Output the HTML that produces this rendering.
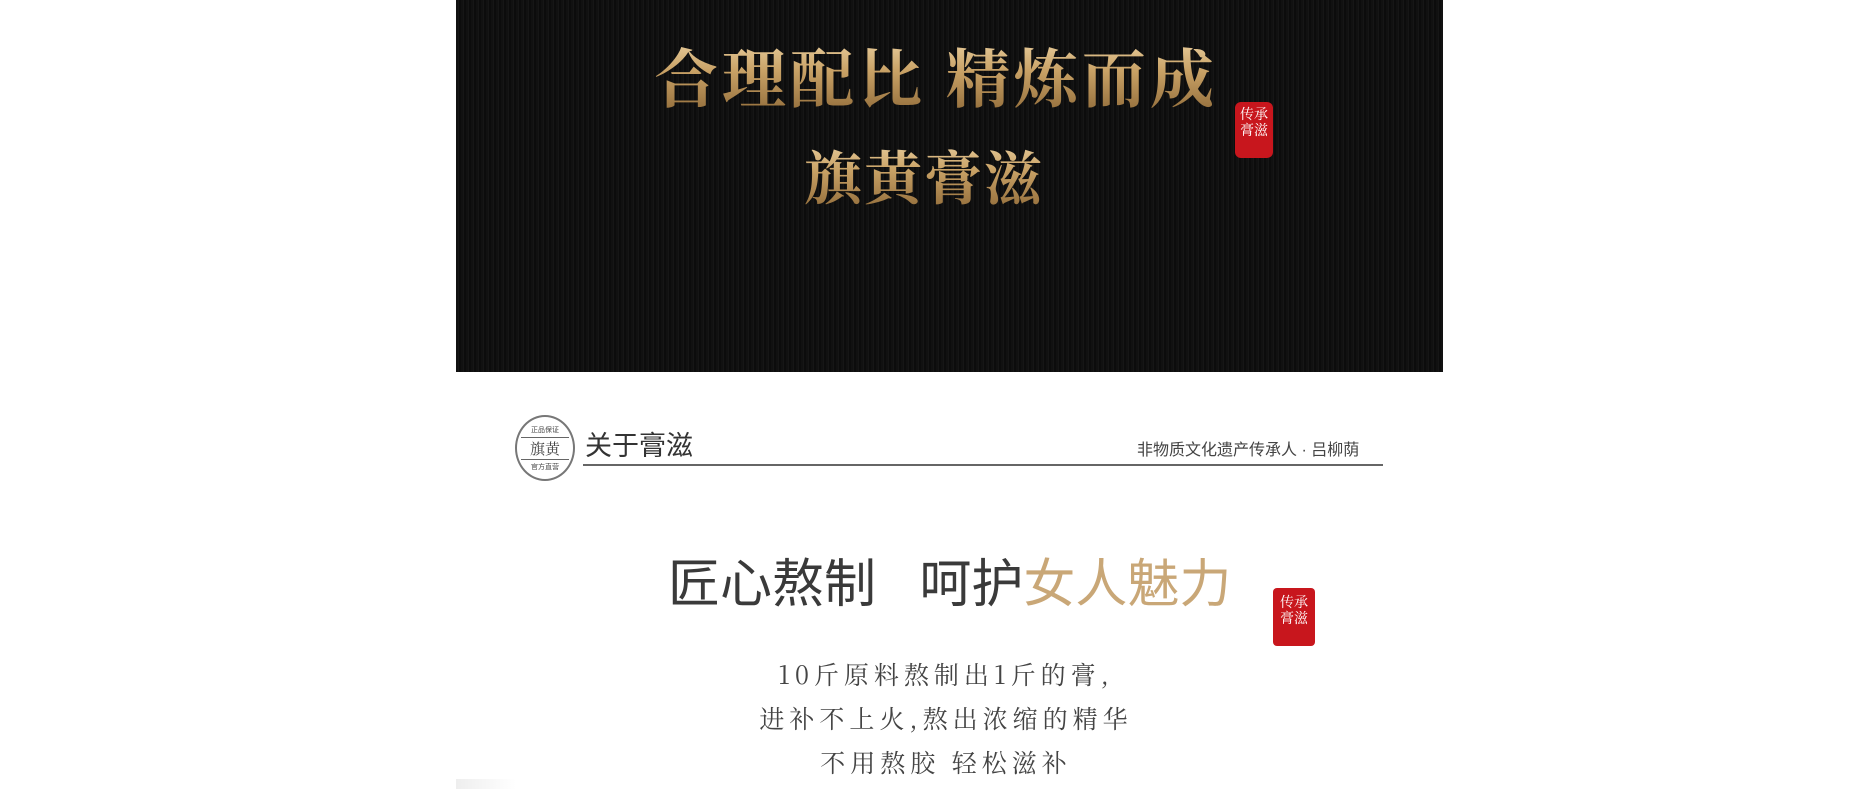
<!DOCTYPE html>
<html><head><meta charset="utf-8">
<style>
body{margin:0;width:1854px;height:789px;background:#fff;position:relative;overflow:hidden;font-family:"Liberation Sans","Noto Sans CJK SC",sans-serif}
.abs{position:absolute}
#panel{left:456px;top:0;width:987px;height:372px;background:repeating-linear-gradient(90deg,#111 0 2px,#161616 2px 3px,#0c0c0c 3px 5px);}
.gold{background:linear-gradient(180deg,#f3dcb0 0%,#c9a266 45%,#8a6534 100%);-webkit-background-clip:text;background-clip:text;color:transparent;font-family:"Noto Serif CJK SC",serif;font-weight:700;white-space:nowrap}
.seal{background:#c8161d;color:#fff;font-family:"Noto Serif CJK SC",serif;font-size:14px;line-height:16px;text-align:center;border-radius:6px}
</style></head><body>
<div id="panel" class="abs"></div>
<div class="abs gold" style="left:654px;top:30px;font-size:64px;line-height:90px;letter-spacing:4px">合理配比 精炼而成</div>
<div class="abs gold" style="left:804px;top:132px;font-size:58px;line-height:84px;letter-spacing:2px">旗黄膏滋</div>
<div class="abs seal" style="left:1235px;top:102px;width:38px;height:56px;padding-top:4px;box-sizing:border-box">传承<br>膏滋</div>

<div class="abs" style="left:515px;top:415px;width:60px;height:66px;border:2px solid #777;border-radius:50%;box-sizing:border-box;text-align:center;color:#444">
<div style="font-size:7px;margin-top:8px">正品保证</div>
<div style="font-size:15px;border-top:1px solid #666;border-bottom:1px solid #666;margin:2px 4px;font-family:'Noto Serif CJK SC',serif">旗黄</div>
<div style="font-size:7px">官方直营</div></div>
<div class="abs" style="left:585px;top:428px;font-size:27px;line-height:36px;color:#333">关于膏滋</div>
<div class="abs" style="left:583px;top:464px;width:800px;height:2px;background:#666"></div>
<div class="abs" style="left:1137px;top:440px;font-size:16px;line-height:22px;color:#444;white-space:nowrap">非物质文化遗产传承人 · 吕柳荫</div>

<div class="abs" style="left:668px;top:550px;font-size:52px;line-height:70px;color:#3a3a3a;white-space:nowrap">匠心熬制&nbsp;&nbsp;&nbsp;呵护<span style="color:#c9a777">女人魅力</span></div>
<div class="abs seal" style="left:1273px;top:588px;width:42px;height:58px;padding-top:6px;box-sizing:border-box;border-radius:4px">传承<br>膏滋</div>

<div class="abs" style="left:646px;top:652px;width:600px;text-align:center;font-size:25px;line-height:44px;color:#444;letter-spacing:5px;font-family:'Noto Serif CJK SC',serif">10斤原料熬制出1斤的膏,<br>进补不上火,熬出浓缩的精华<br>不用熬胶 轻松滋补</div>
<div class="abs" style="left:456px;top:779px;width:60px;height:10px;background:linear-gradient(90deg,#eee,#fff)"></div>
</body></html>
